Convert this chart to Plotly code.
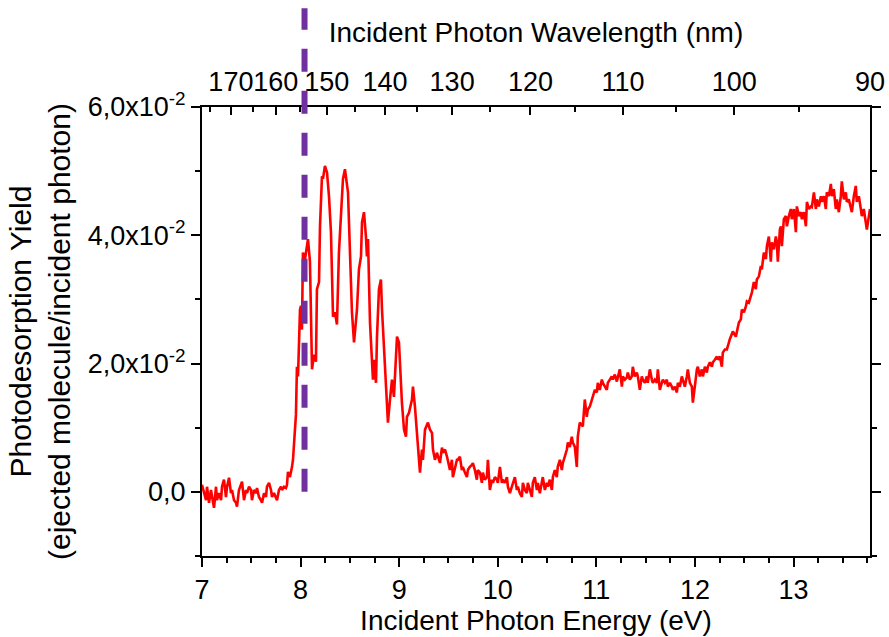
import plotly.graph_objects as go

# ---------------- data ----------------
energy_ev = [
    7.000, 7.010, 7.020, 7.041, 7.051, 7.071, 7.091, 7.101, 7.122, 7.142,
    7.152, 7.172, 7.193, 7.203, 7.223, 7.243, 7.254, 7.274, 7.294, 7.304,
    7.325, 7.345, 7.355, 7.375, 7.396, 7.406, 7.426, 7.446, 7.456, 7.477,
    7.497, 7.507, 7.527, 7.548, 7.558, 7.578, 7.598, 7.609, 7.629, 7.649,
    7.659, 7.680, 7.700, 7.710, 7.730, 7.751, 7.761, 7.781, 7.801, 7.811,
    7.832, 7.852, 7.862, 7.872, 7.892, 7.913, 7.923, 7.943, 7.953, 7.963,
    7.974, 7.994, 8.004, 8.014, 8.024, 8.045, 8.065, 8.075, 8.095, 8.105,
    8.116, 8.136, 8.156, 8.166, 8.187, 8.197, 8.217, 8.227, 8.247, 8.268,
    8.288, 8.308, 8.329, 8.349, 8.369, 8.389, 8.420, 8.430, 8.450, 8.471,
    8.481, 8.491, 8.511, 8.521, 8.542, 8.572, 8.592, 8.613, 8.623, 8.643,
    8.663, 8.673, 8.684, 8.704, 8.734, 8.744, 8.765, 8.775, 8.795, 8.815,
    8.826, 8.856, 8.886, 8.907, 8.927, 8.947, 8.968, 8.978, 8.998, 9.018,
    9.028, 9.049, 9.069, 9.079, 9.099, 9.130, 9.140, 9.160, 9.181, 9.191,
    9.211, 9.231, 9.241, 9.262, 9.292, 9.313, 9.333, 9.343, 9.363, 9.383,
    9.414, 9.434, 9.444, 9.465, 9.485, 9.515, 9.535, 9.545, 9.565, 9.586,
    9.596, 9.616, 9.636, 9.646, 9.667, 9.687, 9.697, 9.717, 9.738, 9.748,
    9.768, 9.788, 9.798, 9.819, 9.839, 9.849, 9.869, 9.890, 9.900, 9.920,
    9.941, 9.951, 9.971, 9.991, 10.001, 10.022, 10.042, 10.052, 10.072, 10.093,
    10.103, 10.123, 10.143, 10.153, 10.174, 10.194, 10.204, 10.224, 10.245, 10.255,
    10.275, 10.295, 10.305, 10.326, 10.346, 10.356, 10.376, 10.397, 10.407, 10.427,
    10.447, 10.457, 10.478, 10.498, 10.508, 10.528, 10.549, 10.559, 10.579, 10.599,
    10.609, 10.630, 10.650, 10.660, 10.680, 10.701, 10.711, 10.731, 10.751, 10.761,
    10.782, 10.802, 10.812, 10.832, 10.863, 10.883, 10.903, 10.913, 10.934, 10.954,
    10.964, 10.985, 11.005, 11.015, 11.035, 11.056, 11.066, 11.086, 11.106, 11.117,
    11.137, 11.157, 11.167, 11.188, 11.208, 11.218, 11.238, 11.259, 11.269, 11.289,
    11.309, 11.319, 11.340, 11.360, 11.370, 11.390, 11.411, 11.421, 11.441, 11.461,
    11.472, 11.492, 11.512, 11.522, 11.543, 11.563, 11.573, 11.593, 11.614, 11.624,
    11.644, 11.664, 11.675, 11.695, 11.715, 11.725, 11.746, 11.766, 11.776, 11.796,
    11.817, 11.827, 11.847, 11.867, 11.878, 11.898, 11.918, 11.928, 11.949, 11.969,
    11.979, 11.999, 12.020, 12.030, 12.050, 12.070, 12.081, 12.101, 12.121, 12.131,
    12.152, 12.172, 12.182, 12.202, 12.223, 12.233, 12.253, 12.273, 12.283, 12.304,
    12.324, 12.334, 12.354, 12.385, 12.415, 12.446, 12.466, 12.476, 12.497, 12.517,
    12.527, 12.547, 12.567, 12.578, 12.598, 12.618, 12.628, 12.649, 12.669, 12.679,
    12.699, 12.720, 12.730, 12.750, 12.770, 12.780, 12.801, 12.821, 12.831, 12.841,
    12.862, 12.872, 12.882, 12.902, 12.923, 12.933, 12.953, 12.973, 12.983, 13.004,
    13.024, 13.034, 13.055, 13.075, 13.085, 13.105, 13.126, 13.136, 13.156, 13.176,
    13.186, 13.207, 13.227, 13.237, 13.257, 13.278, 13.288, 13.308, 13.328, 13.338,
    13.359, 13.379, 13.389, 13.409, 13.429, 13.440, 13.460, 13.480, 13.490, 13.511,
    13.531, 13.541, 13.561, 13.582, 13.592, 13.612, 13.632, 13.642, 13.663, 13.683,
    13.693, 13.713, 13.734, 13.744, 13.776,
]

photodesorption_yield = [
    0.0011, 0.0006, -0.0002, -0.0013, 0.0008, -0.0017, 0.0003, -0.0008, -0.0025, 0.0008,
    -0.0013, -0.0002, -0.0013, 0.0008, 0.0019, -0.0008, 0.0008, 0.0022, -0.0002, 0.0003,
    -0.0013, -0.0017, -0.0023, 0.0003, 0.0014, 0.0016, -0.0013, 0.0003, -0.0002, 0.0008,
    0.0003, -0.0013, 0.0003, -0.0002, 0.0006, -0.0008, -0.0013, -0.0017, -0.0002, -0.0008,
    0.0008, 0.0014, 0.0003, -0.0008, -0.0002, -0.0008, -0.0013, 0.0003, 0.0008, 0.0003,
    0.0008, 0.0006, 0.0011, 0.0031, 0.0023, 0.0039, 0.0050, 0.0097, 0.0120, 0.0195,
    0.0180, 0.0284, 0.0290, 0.0253, 0.0373, 0.0363, 0.0389, 0.0394, 0.0359, 0.0300,
    0.0191, 0.0214, 0.0203, 0.0316, 0.0327, 0.0414, 0.0492, 0.0488, 0.0508, 0.0498,
    0.0461, 0.0405, 0.0273, 0.0280, 0.0261, 0.0373, 0.0467, 0.0488, 0.0503, 0.0483,
    0.0467, 0.0420, 0.0316, 0.0280, 0.0233, 0.0284, 0.0347, 0.0367, 0.0420, 0.0436,
    0.0398, 0.0367, 0.0394, 0.0264, 0.0175, 0.0206, 0.0170, 0.0242, 0.0316, 0.0331,
    0.0284, 0.0191, 0.0108, 0.0144, 0.0175, 0.0148, 0.0227, 0.0242, 0.0233, 0.0159,
    0.0139, 0.0097, 0.0086, 0.0117, 0.0123, 0.0144, 0.0164, 0.0133, 0.0086, 0.0066,
    0.0030, 0.0066, 0.0050, 0.0097, 0.0108, 0.0097, 0.0092, 0.0066, 0.0050, 0.0061,
    0.0045, 0.0069, 0.0061, 0.0066, 0.0055, 0.0034, 0.0050, 0.0023, 0.0039, 0.0050,
    0.0050, 0.0055, 0.0034, 0.0039, 0.0030, 0.0023, 0.0034, 0.0039, 0.0042, 0.0045,
    0.0034, 0.0019, 0.0034, 0.0030, 0.0014, 0.0030, 0.0019, 0.0023, 0.0050, 0.0003,
    0.0019, 0.0014, 0.0023, 0.0019, 0.0014, 0.0039, 0.0014, 0.0019, 0.0014, 0.0023,
    0.0008, -0.0002, 0.0008, 0.0014, 0.0023, 0.0003, 0.0008, -0.0002, -0.0008, 0.0014,
    0.0003, -0.0002, 0.0014, 0.0003, -0.0008, 0.0014, 0.0023, 0.0003, 0.0014, -0.0002,
    0.0019, 0.0023, 0.0003, 0.0014, 0.0008, 0.0019, 0.0003, 0.0023, 0.0034, 0.0023,
    0.0039, 0.0050, 0.0034, 0.0045, 0.0055, 0.0066, 0.0077, 0.0070, 0.0086, 0.0077,
    0.0070, 0.0039, 0.0086, 0.0108, 0.0102, 0.0144, 0.0117, 0.0128, 0.0133, 0.0144,
    0.0148, 0.0159, 0.0155, 0.0170, 0.0159, 0.0175, 0.0170, 0.0164, 0.0159, 0.0170,
    0.0175, 0.0180, 0.0175, 0.0183, 0.0172, 0.0180, 0.0191, 0.0164, 0.0180, 0.0175,
    0.0178, 0.0186, 0.0175, 0.0180, 0.0195, 0.0180, 0.0186, 0.0180, 0.0159, 0.0180,
    0.0175, 0.0170, 0.0180, 0.0170, 0.0191, 0.0175, 0.0170, 0.0175, 0.0170, 0.0191,
    0.0159, 0.0170, 0.0175, 0.0170, 0.0175, 0.0164, 0.0170, 0.0164, 0.0159, 0.0164,
    0.0155, 0.0170, 0.0164, 0.0180, 0.0175, 0.0164, 0.0180, 0.0191, 0.0170, 0.0164,
    0.0139, 0.0170, 0.0191, 0.0195, 0.0180, 0.0191, 0.0180, 0.0195, 0.0186, 0.0195,
    0.0202, 0.0195, 0.0202, 0.0206, 0.0211, 0.0206, 0.0211, 0.0195, 0.0217, 0.0222,
    0.0222, 0.0227, 0.0238, 0.0250, 0.0242, 0.0264, 0.0269, 0.0284, 0.0280, 0.0289,
    0.0297, 0.0295, 0.0305, 0.0311, 0.0327, 0.0316, 0.0331, 0.0336, 0.0352, 0.0347,
    0.0373, 0.0363, 0.0383, 0.0398, 0.0359, 0.0389, 0.0378, 0.0398, 0.0389, 0.0359,
    0.0409, 0.0414, 0.0383, 0.0425, 0.0430, 0.0414, 0.0430, 0.0441, 0.0425, 0.0441,
    0.0405, 0.0445, 0.0430, 0.0436, 0.0425, 0.0436, 0.0414, 0.0452, 0.0441, 0.0445,
    0.0444, 0.0467, 0.0441, 0.0456, 0.0445, 0.0461, 0.0452, 0.0461, 0.0441, 0.0467,
    0.0461, 0.0480, 0.0461, 0.0472, 0.0441, 0.0456, 0.0436, 0.0461, 0.0484, 0.0456,
    0.0467, 0.0452, 0.0456, 0.0445, 0.0436, 0.0461, 0.0477, 0.0452, 0.0461, 0.0441,
    0.0430, 0.0441, 0.0420, 0.0409, 0.0441,
]

energy_ticks = [7, 8, 9, 10, 11, 12, 13]
energy_range = [7.0, 13.776]

yield_tickvals = [0.0, 0.02, 0.04, 0.06]
yield_ticktext = ["0,0", "2,0x10<sup>-2</sup>", "4,0x10<sup>-2</sup>", "6,0x10<sup>-2</sup>"]
yield_range = [-0.01, 0.06]

wavelength_major_nm = [170, 160, 150, 140, 130, 120, 110, 100, 90]
wavelength_minor_nm = [175, 165, 155, 145, 135, 125, 115, 105, 95]
HC_EV_NM = 1239.84  # photon energy (eV) = 1239.84 / wavelength (nm)

threshold_energy_ev = 8.04

# ---------------- styling ----------------
FONT = "Liberation Sans, Arial, sans-serif"
BLACK = "#000000"
TICK_FONT = dict(family=FONT, size=27, color=BLACK)
TITLE_FONT = dict(family=FONT, size=28, color=BLACK)

fig = go.Figure()

fig.add_trace(go.Scatter(
    x=energy_ev, y=photodesorption_yield, mode="lines",
    line=dict(color="#FF0000", width=2.6),
    showlegend=False, hoverinfo="x+y",
))

# invisible trace so the top (wavelength) axis is drawn
fig.add_trace(go.Scatter(
    x=energy_range, y=[None, None], xaxis="x2", mode="lines",
    showlegend=False, hoverinfo="skip",
))

fig.update_layout(
    width=889, height=637,
    margin=dict(l=202, r=19, t=107, b=81, autoexpand=False),
    paper_bgcolor="white", plot_bgcolor="white",
    font=dict(family=FONT, color=BLACK),
    xaxis=dict(
        range=energy_range, tickmode="array", tickvals=energy_ticks,
        ticktext=[str(v) for v in energy_ticks], tickangle=0, automargin=True,
        ticks="outside", ticklen=9, tickwidth=2, tickcolor=BLACK,
        ticklabelstandoff=0,
        showline=True, linewidth=2, linecolor=BLACK,
        showgrid=False, zeroline=False, tickfont=TICK_FONT,
        minor=dict(tick0=7, dtick=0.25, ticks="outside", ticklen=5,
                   tickwidth=2, tickcolor=BLACK, showgrid=False),
        title=dict(text="Incident Photon Energy (eV)", font=TITLE_FONT, standoff=3),
    ),
    xaxis2=dict(
        overlaying="x", side="top", range=energy_range, automargin=True,
        tickmode="array",
        tickvals=[HC_EV_NM / wl for wl in wavelength_major_nm],
        ticktext=[str(wl) for wl in wavelength_major_nm], tickangle=0,
        ticks="inside", ticklen=8, tickwidth=2, tickcolor=BLACK,
        ticklabelstandoff=3,
        showline=True, linewidth=2, linecolor=BLACK,
        showgrid=False, zeroline=False, tickfont=TICK_FONT,
        minor=dict(tickmode="array",
                   tickvals=[HC_EV_NM / wl for wl in wavelength_minor_nm],
                   ticks="inside", ticklen=5, tickwidth=2, tickcolor=BLACK,
                   showgrid=False),
        title=dict(text="Incident Photon Wavelength (nm)", font=TITLE_FONT, standoff=16),
    ),
    yaxis=dict(
        range=yield_range, tickmode="array", tickvals=yield_tickvals,
        ticktext=yield_ticktext, automargin=True,
        ticks="outside", ticklen=9, tickwidth=2, tickcolor=BLACK,
        showline=True, linewidth=2, linecolor=BLACK, mirror="ticks",
        showgrid=False, zeroline=False, tickfont=TICK_FONT,
        minor=dict(tick0=0, dtick=0.01, ticks="outside", ticklen=5,
                   tickwidth=2, tickcolor=BLACK, showgrid=False),
        title=dict(text="Photodesorption Yield<br>(ejected molecule/incident photon)",
                   font=dict(family=FONT, size=30, color=BLACK), standoff=8),
    ),
)

# vertical dashed threshold line, running from zero yield up past the top axis
y0_paper = (0.0 - yield_range[0]) / (yield_range[1] - yield_range[0])
fig.add_shape(
    type="line", xref="x", yref="paper",
    x0=threshold_energy_ev, x1=threshold_energy_ev, y0=y0_paper, y1=1.22,
    line=dict(color="#7030A0", width=6, dash="23px,19px"),
    layer="above",
)

fig.write_html("out.html")
